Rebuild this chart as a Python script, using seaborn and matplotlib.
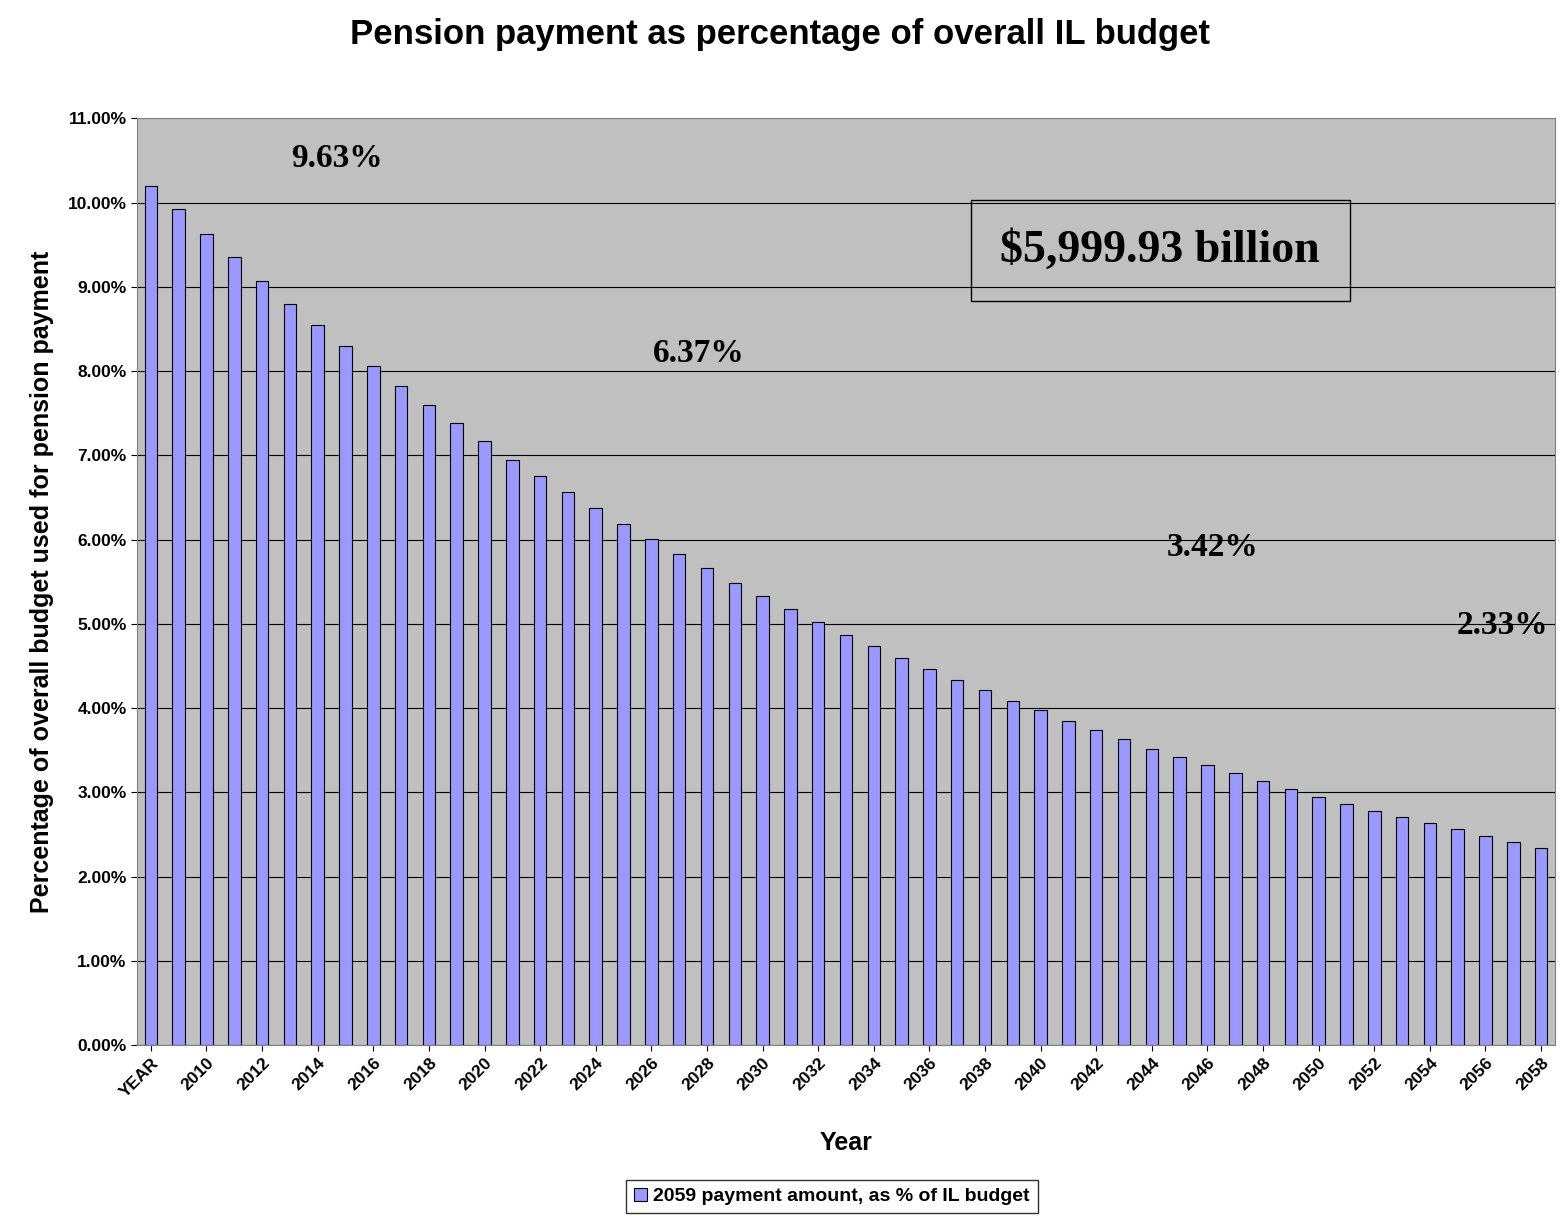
import numpy as np
import pandas as pd
import matplotlib
matplotlib.use('Agg')
import matplotlib.pyplot as plt
import seaborn as sns

years = ['YEAR'] + [str(y) for y in range(2009, 2059)]
pct = [10.20, 9.93, 9.63, 9.35, 9.07, 8.80, 8.55, 8.30, 8.06, 7.82, 7.60, 7.38, 7.17,
       6.95, 6.75, 6.56, 6.37, 6.19, 6.01, 5.83, 5.66, 5.49, 5.33, 5.18, 5.02, 4.87,
       4.74, 4.59, 4.46, 4.33, 4.21, 4.09, 3.98, 3.85, 3.74, 3.63, 3.52, 3.42, 3.32,
       3.23, 3.13, 3.04, 2.95, 2.86, 2.78, 2.71, 2.63, 2.56, 2.48, 2.41, 2.34]
notes = ['9.63%', '6.37%', '3.42%', '2.33%']
series_name = '2059 payment amount, as % of IL budget'

df = pd.DataFrame({'year': years, 'pct': pct})

sns.set_style('white')
plt.rcParams['font.family'] = ['Liberation Sans', 'DejaVu Sans']
plt.rcParams['text.color'] = 'black'
plt.rcParams['axes.labelcolor'] = 'black'
plt.rcParams['xtick.color'] = 'black'
plt.rcParams['ytick.color'] = 'black'

fig = plt.figure(figsize=(15.6, 12.16), dpi=100)
ax = fig.add_axes([0.0878, 0.1406, 0.909, 0.762])
ax.set_facecolor('#C0C0C0')
sns.barplot(data=df, x='year', y='pct', color='#9999FF', edgecolor='black',
            linewidth=0.8, width=0.45, saturation=1, ax=ax, label=series_name)
ax.set_ylim(0, 11)
ax.set_xlim(-0.5, len(years) - 0.5)
ax.set_yticks(np.arange(0, 11.01, 1))
ax.set_yticklabels(['{:.2f}%'.format(v) for v in np.arange(0, 11.01, 1)])
ax.yaxis.grid(True, color='black', linewidth=0.8)
ax.set_axisbelow(True)
ax.set_xticks(range(0, len(years), 2))
ax.set_xticklabels(years[::2], rotation=45, ha='right', rotation_mode='anchor')
for lab in ax.get_xticklabels() + ax.get_yticklabels():
    lab.set_fontweight('bold')
    lab.set_fontsize(12.5)
ax.tick_params(axis='both', length=4, color='black', left=True, bottom=True)
for s in ax.spines.values():
    s.set_color('#808080')
ax.set_xlabel('Year', fontsize=18, fontweight='bold', labelpad=22)
ax.set_ylabel('Percentage of overall budget used for pension payment',
              fontsize=18, fontweight='bold', labelpad=10)
fig.suptitle('Pension payment as percentage of overall IL budget',
             fontsize=25, fontweight='bold', y=0.985)

serif = ['Liberation Serif', 'DejaVu Serif']
for (xi, yi), t in zip([(6.7, 10.52), (19.7, 8.21), (38.2, 5.91), (48.6, 4.98)], notes):
    ax.text(xi, yi, t, fontsize=24, fontweight='bold', family=serif,
            ha='center', va='center')
ax.text(36.3, 9.43, '$5,999.93 billion', fontsize=33, fontweight='bold', family=serif,
        ha='center', va='center',
        bbox=dict(boxstyle='square,pad=0.65', facecolor='none', edgecolor='black'))

ax.legend(loc='upper center', bbox_to_anchor=(0.49, -0.135), frameon=True,
          fancybox=False, edgecolor='black', prop={'size': 14, 'weight': 'bold'},
          handlelength=0.7, handleheight=0.7, handletextpad=0.3, borderpad=0.4)
fig.savefig('out.png', dpi=100)
